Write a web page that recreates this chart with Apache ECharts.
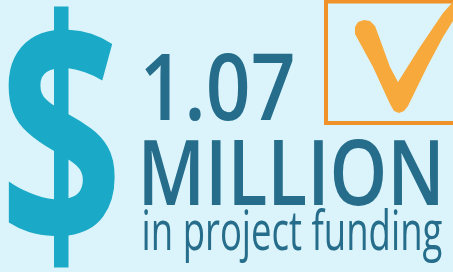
<!DOCTYPE html>
<html><head><meta charset="utf-8">
<script src="https://cdn.jsdelivr.net/npm/echarts@6/dist/echarts.min.js"></script>
<style>html,body{margin:0;padding:0;background:#dbf4fb}#c{width:453px;height:272px}</style>
</head><body><div id="c"></div>
<script>
// Content
const symbolText = ['$'];
const amountText = ['1.07'];
const unitText = ['MILLION'];
const captionText = ['in project funding'];

const BG = '#dbf4fb';
const TEAL = '#1aa9c6';
const NAVY = '#256d8b';
const ORANGE_BOX = '#ef9229';
const ORANGE_CHECK = '#f7a93c';

const mctx = document.createElement('canvas').getContext('2d');
function fitText(text, font, box, fill) {
  mctx.font = font; mctx.textAlign = 'left'; mctx.textBaseline = 'middle';
  const m = mctx.measureText(text);
  const L = m.actualBoundingBoxLeft, R = m.actualBoundingBoxRight;
  const A = m.actualBoundingBoxAscent, D = m.actualBoundingBoxDescent;
  const sx = (box[2] - box[0]) / (L + R);
  const sy = (box[3] - box[1]) / (A + D);
  return {
    type: 'text', silent: true,
    x: box[0] + L * sx, y: box[1] + A * sy, scaleX: sx, scaleY: sy,
    style: { text: text, font: font, fill: fill, x: 0, y: 0,
      align: 'left', verticalAlign: 'middle', textAlign: 'left', textVerticalAlign: 'middle' }
  };
}

const checkPts = [[355,34],[355,27],[358,22],[364,20],[370,21],[375,26],[378,34],[390,67],[398,82],[420,47],[443,13],[460,-6],[460,10],[443,37],[427,67],[408,106],[404,111],[399,113],[394,111],[390,104],[373,67]];

const chart = echarts.init(document.getElementById('c'), null, { renderer: 'canvas' });
chart.setOption({
  backgroundColor: BG,
  animation: false,
  graphic: [
    { type: 'rect', silent: true, shape: { x: 326, y: 1.5, width: 200, height: 121.5 },
      style: { fill: 'none', stroke: ORANGE_BOX, lineWidth: 4 } },
    { type: 'polygon', silent: true, shape: { points: checkPts }, style: { fill: ORANGE_CHECK } },
    fitText(symbolText[0], '700 200px "Open Sans"', [8, 6, 115, 268], TEAL),
    fitText(amountText[0], '600 100px "Open Sans"', [145, 52, 293, 121], NAVY),
    fitText(unitText[0], '600 100px "Open Sans"', [144, 140, 438, 206], NAVY),
    fitText(captionText[0], '500 60px "Open Sans"', [144, 207, 442, 263], NAVY)
  ]
});
</script></body></html>
